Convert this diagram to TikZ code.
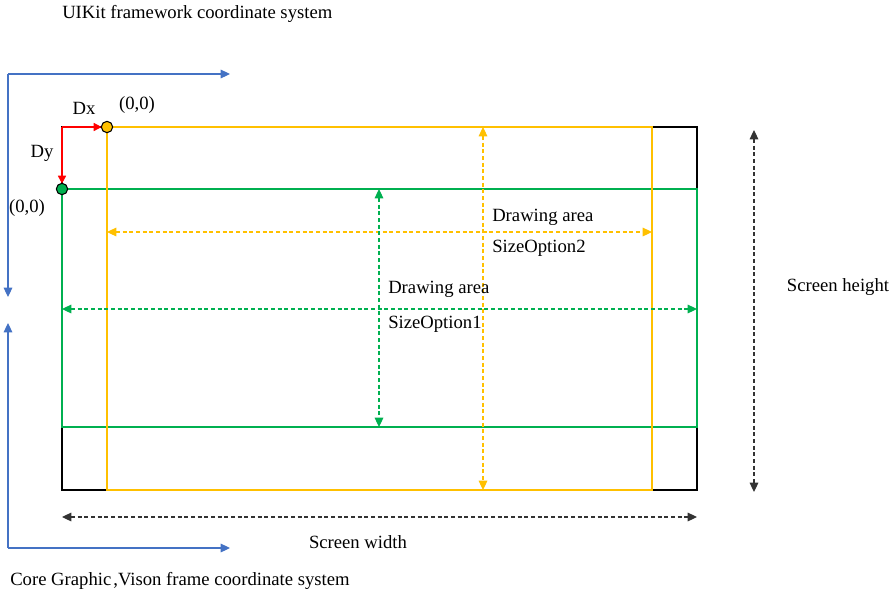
\documentclass[tikz,border=0pt]{standalone}
\usepackage{fontspec}
\setmainfont{Liberation Serif}
\usetikzlibrary{arrows.meta}
\definecolor{axisblue}{HTML}{4472C4}
\definecolor{optyellow}{HTML}{FFC000}
\definecolor{optgreen}{HTML}{00B050}
\definecolor{offsetred}{HTML}{FF0000}
\tikzset{
  tip/.style={-{Triangle[length=7pt,width=6.5pt]}},
  dtip/.style={{Triangle[length=7pt,width=6.5pt]}-{Triangle[length=7pt,width=6.5pt]}},
  axis/.style={draw=axisblue, line width=0.8pt, tip},
  frame/.style={line width=1.2pt},
  measure/.style={dashed, dash pattern=on 3pt off 2pt, line width=0.8pt, dtip},
  lbl/.style={font=\fontsize{14pt}{16pt}\selectfont, inner sep=0pt},
  origin/.style={circle, draw=black, line width=0.8pt, minimum size=8.5pt, inner sep=0pt}
}
\begin{document}
\begin{tikzpicture}[x=0.75pt, y=-0.75pt]
\useasboundingbox (0,0) rectangle (893,594);

% corner points of the screen and of the two drawing areas
\coordinate (s1) at (62,127);   \coordinate (s2) at (697,490);
\coordinate (y1) at (107,127);  \coordinate (y2) at (652,490);
\coordinate (g1) at (62,189);   \coordinate (g2) at (697,427);

% coordinate system axes
\coordinate (uo) at (8,74);
\coordinate (ux) at (230,74);
\coordinate (uy) at (8,297);
\coordinate (co) at (8,548);
\coordinate (cx) at (230,548);
\coordinate (cy) at (8,323);
\draw[axis] (uo) -- (ux);
\draw[axis] (uo) -- (uy);
\draw[axis] (co) -- (cx);
\draw[axis] (co) -- (cy);

% screen outline
\draw[frame, black] (s1) rectangle (s2);
% drawing area, option 1
\draw[frame, optgreen] (g1) rectangle (g2);
% drawing area, option 2
\draw[frame, optyellow] (y1) rectangle (y2);

% offsets between the origins
\draw[offsetred, line width=1.2pt, -{Triangle[length=6pt,width=6pt]}] (s1) -- ([xshift=-4pt]y1);
\draw[offsetred, line width=1.2pt, -{Triangle[length=6pt,width=6pt]}] (s1) -- ([yshift=4pt]g1);
\node[origin, fill=optyellow] (oy) at (y1) {};
\node[origin, fill=optgreen] (og) at (g1) {};

% dimension lines
\coordinate (ya) at (107,232); \coordinate (yb) at (652,232);
\coordinate (yc) at (483,127); \coordinate (yd) at (483,490);
\coordinate (ga) at (62,309);  \coordinate (gb) at (697,309);
\coordinate (gc) at (379,189); \coordinate (gd) at (379,427);
\coordinate (ha) at (754,130); \coordinate (hb) at (754,492);
\coordinate (wa) at (62,517);  \coordinate (wb) at (697,517);
\draw[measure, optyellow] (ya) -- (yb);
\draw[measure, optyellow] (yc) -- (yd);
\draw[measure, optgreen] (ga) -- (gb);
\draw[measure, optgreen] (gc) -- (gd);
\draw[measure, black!80] (ha) -- (hb);
\draw[measure, black!80] (wa) -- (wb);

% labels
\node[lbl, anchor=west] (t1) at (62,14) {UIKit framework coordinate system};
\node[lbl, anchor=west] (t2) at (10,581) {Core Graphic\kern1.5pt,Vison frame coordinate system};
\node[lbl] (dx) at (84,108) {Dx};
\node[lbl] (dy) at (42,153) {Dy};
\node[lbl] (o1) at (137,105) {(0,0)};
\node[lbl] (o2) at (27,208) {(0,0)};
\node[lbl, anchor=west] (a2) at (492,217) {Drawing area};
\node[lbl, anchor=west] (s2t) at (492,248) {SizeOption2};
\node[lbl, anchor=west] (a1) at (388,289) {Drawing area};
\node[lbl, anchor=west] (s1t) at (388,324) {SizeOption1};
\node[lbl] (sh) at (838,287) {Screen height};
\node[lbl] (sw) at (358,542) {Screen width};
\end{tikzpicture}
\end{document}
